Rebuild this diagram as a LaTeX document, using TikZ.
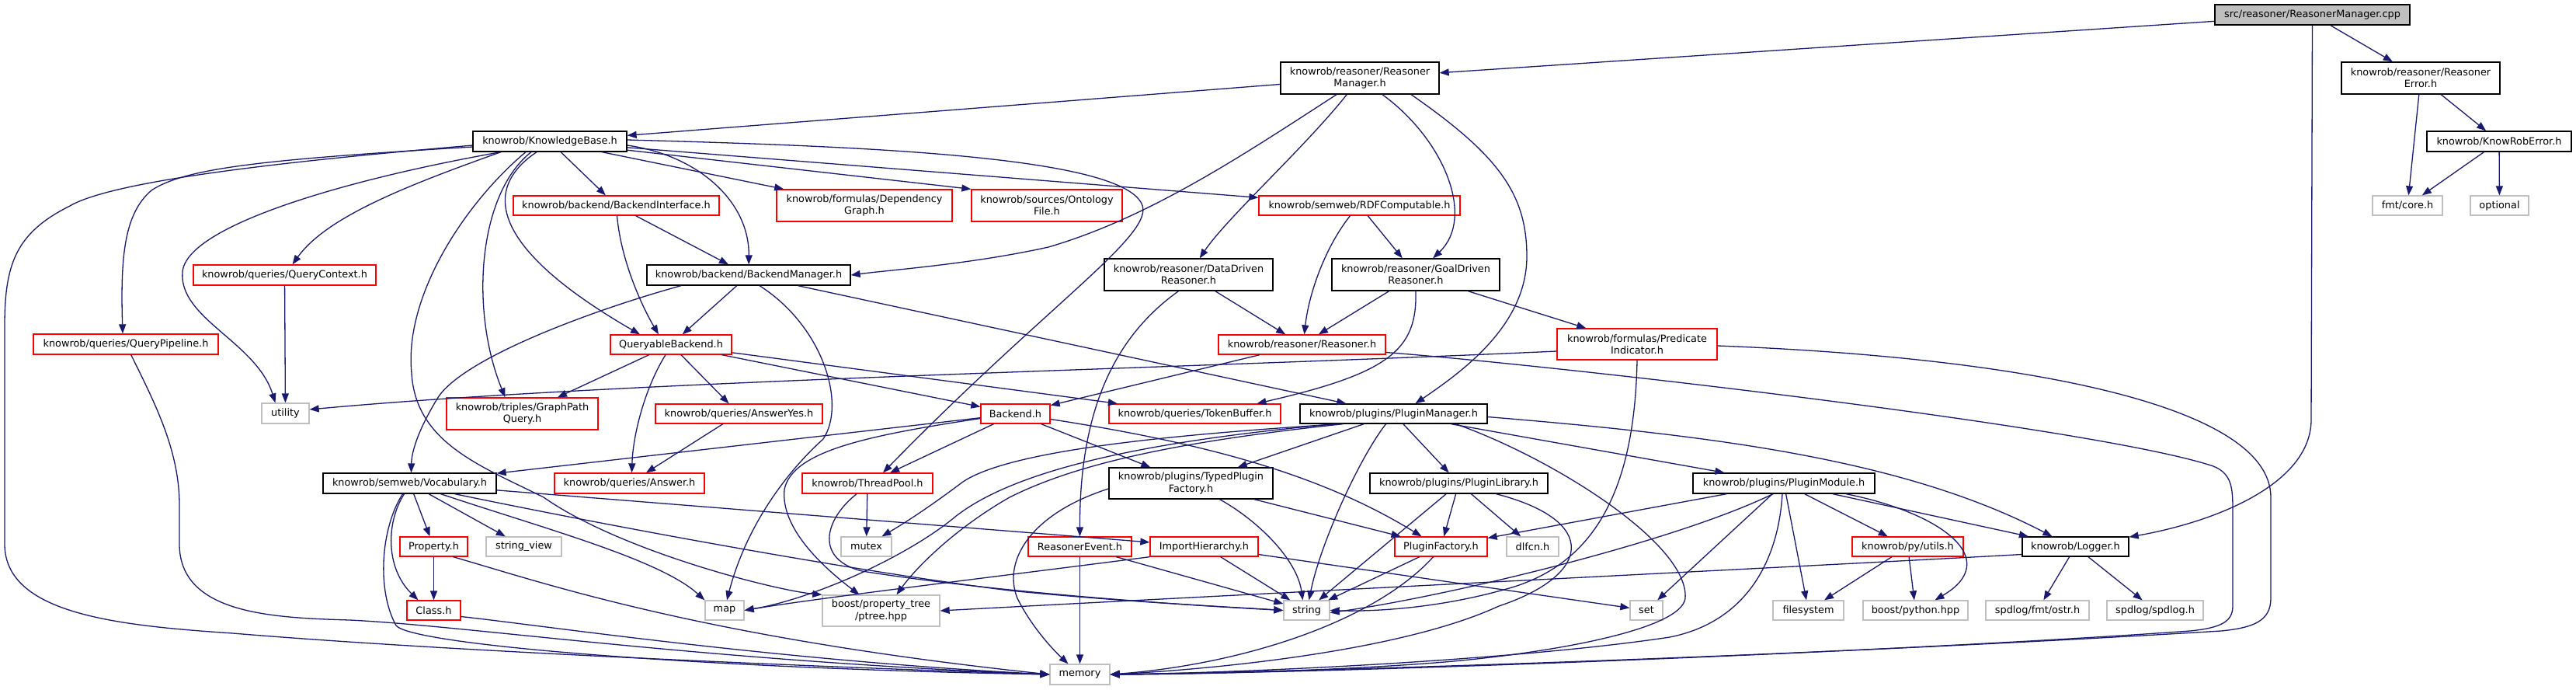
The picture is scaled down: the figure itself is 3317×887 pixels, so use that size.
\documentclass[tikz,border=0pt]{standalone}
\usepackage{fontspec}
\setmainfont{DejaVu Sans}
\usetikzlibrary{arrows.meta}
\definecolor{edgec}{HTML}{191970}
\definecolor{nodegray}{HTML}{BFBFBF}
\definecolor{nodered}{HTML}{FF0000}
\tikzset{
 nb/.style={draw, line width=1.3pt, fill=white, inner sep=0pt, align=center, font=\fontsize{12.85pt}{15.3pt}\selectfont},
 kbox/.style={nb, draw=black},
 rbox/.style={nb, draw=nodered},
 gbox/.style={nb, draw=nodegray},
 dep/.style={draw=edgec, line width=1.3pt, -{Triangle[length=12pt,width=9pt]}},
}
\begin{document}
\begin{tikzpicture}[x=1pt,y=-1pt]
\useasboundingbox (0,0) rectangle (3317,887);
\fill[white] (0,0) rectangle (3317,887);
% ---------------- nodes
\node[kbox, fill=nodegray, minimum width=251pt, minimum height=26pt] (cpp) at (2977.5,19) {src/reasoner/ReasonerManager.cpp};
\node[kbox, minimum width=204pt, minimum height=41pt] (rmh) at (1751,100.5) {knowrob/reasoner/Reasoner\\Manager.h};
\node[kbox, minimum width=204pt, minimum height=41pt] (rerr) at (3117,100.5) {knowrob/reasoner/Reasoner\\Error.h};
\node[kbox, minimum width=186pt, minimum height=26pt] (kre) at (3218,182) {knowrob/KnowRobError.h};
\node[gbox, minimum width=90pt, minimum height=25pt] (fmt) at (3100,264.5) {fmt/core.h};
\node[gbox, minimum width=75pt, minimum height=25pt] (opt) at (3218.5,264.5) {optional};
\node[kbox, minimum width=198pt, minimum height=26pt] (kb) at (708,182) {knowrob/KnowledgeBase.h};
\node[rbox, minimum width=265pt, minimum height=25pt] (bif) at (793.5,264.5) {knowrob/backend/BackendInterface.h};
\node[rbox, minimum width=226pt, minimum height=41pt] (dg) at (1113,264.5) {knowrob/formulas/Dependency\\Graph.h};
\node[rbox, minimum width=194pt, minimum height=41pt] (onto) at (1348,264.5) {knowrob/sources/Ontology\\File.h};
\node[rbox, minimum width=259pt, minimum height=25pt] (rdf) at (1750.5,264.5) {knowrob/semweb/RDFComputable.h};
\node[rbox, minimum width=235pt, minimum height=26pt] (qctx) at (366.5,354) {knowrob/queries/QueryContext.h};
\node[kbox, minimum width=262pt, minimum height=26pt] (bm) at (964,354) {knowrob/backend/BackendManager.h};
\node[kbox, minimum width=217pt, minimum height=41pt] (ddr) at (1530.5,353.5) {knowrob/reasoner/DataDriven\\Reasoner.h};
\node[kbox, minimum width=216pt, minimum height=41pt] (gdr) at (1823,353.5) {knowrob/reasoner/GoalDriven\\Reasoner.h};
\node[rbox, minimum width=238pt, minimum height=26pt] (qp) at (162,443) {knowrob/queries/QueryPipeline.h};
\node[rbox, minimum width=156pt, minimum height=25pt] (qb) at (864,443.5) {QueryableBackend.h};
\node[rbox, minimum width=215pt, minimum height=25pt] (reas) at (1676.5,443.5) {knowrob/reasoner/Reasoner.h};
\node[rbox, minimum width=206pt, minimum height=40pt] (pi) at (2108,443) {knowrob/formulas/Predicate\\Indicator.h};
\node[gbox, minimum width=61pt, minimum height=26pt] (util) at (367.5,532) {utility};
\node[rbox, minimum width=195pt, minimum height=41pt] (gpq) at (672.5,532.5) {knowrob/triples/GraphPath\\Query.h};
\node[rbox, minimum width=215pt, minimum height=25pt] (ayes) at (951.5,532.5) {knowrob/queries/AnswerYes.h};
\node[rbox, minimum width=89pt, minimum height=25pt] (backend) at (1307.5,532.5) {Backend.h};
\node[rbox, minimum width=221pt, minimum height=25pt] (tb) at (1538.5,532.5) {knowrob/queries/TokenBuffer.h};
\node[kbox, minimum width=241pt, minimum height=25pt] (pm) at (1794.5,532.5) {knowrob/plugins/PluginManager.h};
\node[kbox, minimum width=223pt, minimum height=26pt] (voc) at (527.5,622) {knowrob/semweb/Vocabulary.h};
\node[rbox, minimum width=193pt, minimum height=26pt] (ans) at (810.5,622) {knowrob/queries/Answer.h};
\node[rbox, minimum width=168pt, minimum height=26pt] (tp) at (1117,622) {knowrob/ThreadPool.h};
\node[kbox, minimum width=211pt, minimum height=40pt] (tpf) at (1533.5,622) {knowrob/plugins/TypedPlugin\\Factory.h};
\node[kbox, minimum width=229pt, minimum height=26pt] (plib) at (1878.5,622) {knowrob/plugins/PluginLibrary.h};
\node[kbox, minimum width=234pt, minimum height=26pt] (pmod) at (2297,622) {knowrob/plugins/PluginModule.h};
\node[rbox, minimum width=87pt, minimum height=25pt] (prop) at (558.5,703.5) {Property.h};
\node[gbox, minimum width=97pt, minimum height=25pt] (sv) at (674.5,703.5) {string\_view};
\node[gbox, minimum width=65pt, minimum height=25pt] (mutex) at (1115.5,703.5) {mutex};
\node[rbox, minimum width=133pt, minimum height=25pt] (rev) at (1390.5,703.5) {ReasonerEvent.h};
\node[rbox, minimum width=139pt, minimum height=25pt] (ih) at (1550.5,703.5) {ImportHierarchy.h};
\node[rbox, minimum width=119pt, minimum height=25pt] (pf) at (1855.5,703.5) {PluginFactory.h};
\node[gbox, minimum width=67pt, minimum height=25pt] (dlfcn) at (1973.5,703.5) {dlfcn.h};
\node[rbox, minimum width=143pt, minimum height=25pt] (pyu) at (2456.5,703.5) {knowrob/py/utils.h};
\node[kbox, minimum width=137pt, minimum height=25pt] (log) at (2672.5,703.5) {knowrob/Logger.h};
\node[rbox, minimum width=69pt, minimum height=25pt] (cls) at (558.5,785.5) {Class.h};
\node[gbox, minimum width=50pt, minimum height=25pt] (map) at (933,785.5) {map};
\node[gbox, minimum width=151pt, minimum height=40pt] (ptree) at (1134.5,786) {boost/property\_tree\\/ptree.hpp};
\node[gbox, minimum width=59pt, minimum height=25pt] (str) at (1682.5,785.5) {string};
\node[gbox, minimum width=42pt, minimum height=25pt] (set) at (2120,785.5) {set};
\node[gbox, minimum width=91pt, minimum height=25pt] (fs) at (2328.5,785.5) {filesystem};
\node[gbox, minimum width=135pt, minimum height=25pt] (bpy) at (2466.5,785.5) {boost/python.hpp};
\node[gbox, minimum width=133pt, minimum height=25pt] (ostr) at (2623.5,785.5) {spdlog/fmt/ostr.h};
\node[gbox, minimum width=124pt, minimum height=25pt] (spd) at (2775,785.5) {spdlog/spdlog.h};
\node[gbox, minimum width=77pt, minimum height=26pt] (mem) at (1390.5,868) {memory};
% ---------------- edges
% cpp
\draw[dep] (cpp) -- (rmh);
\draw[dep] (cpp) -- (rerr);
\draw[dep] (cpp) -- (2976,540) .. controls (2976,620) and (2860,670) .. (log);
% reasoner error
\draw[dep] (rerr) -- (fmt);
\draw[dep] (rerr) -- (kre);
\draw[dep] (kre) -- (fmt);
\draw[dep] (kre) -- (opt);
% reasoner manager
\draw[dep] (rmh) -- (kb);
\draw[dep] ([xshift=-30pt]rmh.south) .. controls (1600,200) and (1480,280) .. (1350,318) .. controls (1250,340) and (1150,347) .. (bm.east);
\draw[dep] (rmh) .. controls (1680,190) and (1580,280) .. (ddr);
\draw[dep] (rmh) .. controls (1860,180) and (1900,280) .. (gdr);
\draw[dep] ([xshift=66pt]rmh.south) .. controls (1930,200) and (1966,250) .. (1966,330) .. controls (1966,420) and (1880,480) .. ([xshift=28pt]pm.north);
% knowledge base
\draw[dep] ([yshift=-5pt]kb.west) .. controls (400,205) and (150,230) .. (90,265) .. controls (20,300) and (6,340) .. (6,420) -- (6,700) .. controls (6,790) and (150,805) .. (300,815) .. controls (600,840) and (1100,860) .. (mem.west);
\draw[dep] ([yshift=-7pt]kb.west) .. controls (350,205) and (240,215) .. (195,245) .. controls (160,275) and (155,330) .. ([xshift=-4pt]qp.north);
\draw[dep] ([xshift=-63pt]kb.south) .. controls (450,230) and (240,290) .. (235,350) .. controls (230,410) and (330,440) .. ([xshift=-13pt]util.north);
\draw[dep] ([xshift=-63pt]kb.south) .. controls (520,240) and (420,280) .. ([xshift=10pt]qctx.north);
\draw[dep] ([xshift=-31pt]kb.south) .. controls (600,260) and (520,380) .. (530,480) .. controls (535,570) and (620,600) .. (700,640) .. controls (800,710) and (1000,760) .. (ptree.north west);
\draw[dep] ([xshift=-24pt]kb.south) .. controls (615,250) and (605,400) .. ([xshift=-22pt]gpq.north);
\draw[dep] ([xshift=-17pt]kb.south) .. controls (610,250) and (650,330) .. ([xshift=-40pt]qb.north);
\draw[dep] (kb) -- (bif);
\draw[dep] ([yshift=-5pt]kb.east) .. controls (900,200) and (965,260) .. (bm);
\draw[dep] (kb) -- (dg);
\draw[dep] (kb) -- (onto.north west);
\draw[dep] (kb) -- (rdf);
\draw[dep] ([yshift=2pt]kb.east) .. controls (1100,188) and (1440,200) .. (1470,262) .. controls (1490,300) and (1350,390) .. ([xshift=20pt]tp.north);
% backend interface
\draw[dep] ([xshift=1pt]bif.south) .. controls (800,340) and (830,400) .. ([xshift=-16pt]qb.north);
\draw[dep] (bif) -- (bm);
% query context / pipeline
\draw[dep] (qctx) -- (util);
\draw[dep] (qp) .. controls (200,520) and (231,580) .. (231,650) -- (231,700) .. controls (231,790) and (350,795) .. (450,798) .. controls (600,805) and (900,850) .. (mem.west);
% backend manager
\draw[dep] (bm) -- (qb);
\draw[dep] ([xshift=-87pt]bm.south) .. controls (760,400) and (600,460) .. (565,510) .. controls (540,550) and (530,580) .. ([xshift=2pt]voc.north);
\draw[dep] ([xshift=14pt]bm.south) .. controls (1060,420) and (1090,520) .. (1060,565) .. controls (1010,610) and (960,680) .. ([xshift=3pt]map.north);
\draw[dep] (bm) -- (pm);
% queryable backend
\draw[dep] (qb) -- (gpq);
\draw[dep] ([xshift=-7pt]qb.south) .. controls (830,500) and (815,560) .. ([xshift=3pt]ans.north);
\draw[dep] (qb) -- (ayes);
\draw[dep] (qb) -- (backend);
\draw[dep] (qb) -- (tb);
\draw[dep] (ayes) -- (ans);
% backend
\draw[dep] (backend) -- (tp);
\draw[dep] (backend) -- (voc);
\draw[dep] ([yshift=-6pt]backend.west) .. controls (1120,560) and (1020,580) .. (1010,630) .. controls (1005,680) and (1060,730) .. ([xshift=-28pt]ptree.north);
\draw[dep] (backend) -- (tpf);
\draw[dep] (backend) .. controls (1550,570) and (1700,610) .. ([xshift=-25pt]pf.north);
% reasoner
\draw[dep] (reas) -- (backend);
\draw[dep] ([yshift=-10pt]reas.east) .. controls (2000,470) and (2700,550) .. (2850,600) .. controls (2875,610) and (2875,630) .. (2875,660) -- (2875,780) .. controls (2875,800) and (2860,808) .. (2820,812) .. controls (2500,835) and (1800,865) .. (mem.east);
% data driven / goal driven
\draw[dep] (ddr) -- (reas);
\draw[dep] ([xshift=-13pt]ddr.south) .. controls (1440,430) and (1390,520) .. (rev);
\draw[dep] (gdr) -- (reas);
\draw[dep] (gdr.south) .. controls (1825,450) and (1790,480) .. ([xshift=80pt]tb.north);
\draw[dep] (gdr) -- (pi);
% rdf computable
\draw[dep] ([xshift=-12pt]rdf.south) .. controls (1705,320) and (1685,380) .. ([xshift=3pt]reas.north);
\draw[dep] (rdf) -- (gdr);
% predicate indicator
\draw[dep] ([yshift=-9pt]pi.west) .. controls (1500,475) and (800,490) .. ([yshift=5pt]util.east);
\draw[dep] (pi.south) .. controls (2105,620) and (2060,720) .. (1950,755) .. controls (1850,785) and (1760,787) .. (str.east);
\draw[dep] ([yshift=-2pt]pi.east) .. controls (2600,460) and (2924,520) .. (2924,640) -- (2924,770) .. controls (2924,800) and (2900,808) .. (2860,812) .. controls (2400,840) and (1800,862) .. (mem.east);
% plugin module
\draw[dep] (pmod) -- (pf);
\draw[dep] (pmod) -- (set);
\draw[dep] ([xshift=-14pt]pmod.south) .. controls (2150,700) and (1850,770) .. ([yshift=-3pt]str.east);
\draw[dep] ([xshift=-2pt]pmod.south) .. controls (2290,720) and (2250,800) .. (2150,820) .. controls (1950,850) and (1600,866) .. (mem.east);
\draw[dep] (pmod) -- (fs);
\draw[dep] (pmod) -- (pyu);
\draw[dep] (pmod) -- (log);
\draw[dep] ([xshift=80pt]pmod.south) .. controls (2500,660) and (2580,720) .. ([xshift=25pt]bpy.north);
% plugin manager
\draw[dep] (pm) -- (tpf);
\draw[dep] ([xshift=-10pt]pm.south) .. controls (1750,590) and (1700,700) .. ([xshift=3pt]str.north);
\draw[dep] (pm) -- (plib);
\draw[dep] (pm) -- (pmod);
\draw[dep] ([yshift=-4pt]pm.east) .. controls (2200,560) and (2450,590) .. ([xshift=-30pt]log.north);
\draw[dep] ([xshift=80pt]pm.south) .. controls (2000,590) and (2175,700) .. (2170,770) .. controls (2165,810) and (2000,840) .. (1860,852) .. controls (1700,865) and (1500,868) .. (mem.east);
\draw[dep] ([xshift=-70pt]pm.south) .. controls (1500,560) and (1300,580) .. (1240,620) .. controls (1200,650) and (1170,670) .. ([xshift=20pt]mutex.north);
\draw[dep] ([xshift=-75pt]pm.south) .. controls (1450,570) and (1300,610) .. (1230,665) .. controls (1170,715) and (1050,770) .. (map.east);
\draw[dep] ([xshift=-65pt]pm.south) .. controls (1500,570) and (1380,600) .. (1300,640) .. controls (1230,680) and (1180,730) .. ([xshift=20pt]ptree.north);
% plugin library
\draw[dep] (plib) -- (str);
\draw[dep] (plib) -- (pf);
\draw[dep] (plib) -- (dlfcn);
\draw[dep] ([xshift=48pt]plib.south) .. controls (2060,670) and (2050,740) .. (1930,780) .. controls (1800,840) and (1550,862) .. (mem.east);
% plugin factory
\draw[dep] (pf) -- (str);
\draw[dep] ([xshift=-10pt]pf.south) .. controls (1770,800) and (1600,855) .. (mem.east);
% typed plugin factory
\draw[dep] ([xshift=37pt]tpf.south) .. controls (1620,670) and (1670,720) .. ([xshift=-5pt]str.north);
\draw[dep] (tpf) -- (pf);
\draw[dep] ([yshift=-7pt]tpf.west) .. controls (1330,660) and (1290,720) .. (1310,770) .. controls (1330,810) and (1360,840) .. ([xshift=-15pt]mem.north);
% reasoner event / import hierarchy
\draw[dep] (rev) -- (mem);
\draw[dep] (rev) -- (str);
\draw[dep] (ih.south west) .. controls (1300,740) and (1050,770) .. (map.east);
\draw[dep] (ih) -- (str);
\draw[dep] (ih) -- (set);
% thread pool
\draw[dep] (tp) -- (mutex);
\draw[dep] ([xshift=-14pt]tp.south) .. controls (1060,670) and (1050,720) .. (1110,735) .. controls (1300,765) and (1550,780) .. (str.west);
% vocabulary
\draw[dep] ([xshift=-7pt]voc.south) .. controls (498,670) and (495,730) .. ([xshift=-20pt]cls.north);
\draw[dep] ([xshift=-9pt]voc.south) .. controls (490,680) and (485,760) .. (510,805) .. controls (530,830) and (900,860) .. (mem.west);
\draw[dep] (voc) -- (prop);
\draw[dep] (voc) -- (sv);
\draw[dep] ([xshift=40pt]voc.south) .. controls (700,680) and (850,720) .. (map.north west);
\draw[dep] ([xshift=58pt]voc.south) .. controls (800,680) and (1100,735) .. (1300,760) .. controls (1450,775) and (1600,782) .. (str.west);
\draw[dep] (voc) -- (ih);
% property / class
\draw[dep] (prop) -- (cls);
\draw[dep] ([xshift=25pt]prop.south) .. controls (700,750) and (900,820) .. (mem.west);
\draw[dep] ([yshift=-8pt]cls.east) .. controls (700,805) and (1000,850) .. (mem.west);
% logger / py utils
\draw[dep] (log) -- (ostr);
\draw[dep] (log) -- (spd);
\draw[dep] ([yshift=-10pt]log.west) .. controls (2400,725) and (1600,765) .. (ptree.east);
\draw[dep] (pyu) -- (fs);
\draw[dep] (pyu) -- (bpy);
\end{tikzpicture}
\end{document}
